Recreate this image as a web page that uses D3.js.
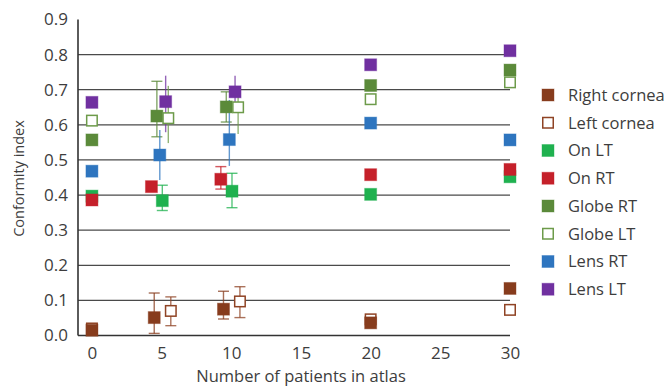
<!DOCTYPE html>
<html>
<head>
<meta charset="utf-8">
<script src="https://cdn.jsdelivr.net/npm/d3@7"></script>
<style>
  body { margin: 0; background: #fff; }
  text { font-family: "Open Sans", sans-serif; fill: #3d3d3d; }
</style>
</head>
<body>
<div id="chart"></div>
<script>
const width = 668;
const height = 387;

// data
const xTicks = [0, 5, 10, 15, 20, 25, 30];
const yTicks = [0, 0.1, 0.2, 0.3, 0.4, 0.5, 0.6, 0.7, 0.8, 0.9];
const names = ["Right cornea", "Left cornea", "On LT", "On RT", "Globe RT", "Globe LT", "Lens RT", "Lens LT"];
const colors = ["#873c1d", "#8f4324", "#1fb14f", "#c5202a", "#5b8a3a", "#6d9b4a", "#2e75bf", "#7030a0"];
const hollow = [false, true, false, false, false, true, false, false];
const capped = [true, true, true, true, true, false, false, false];

// x positions (slightly spread around 5 and 10 in the original)
const xRightCornea = [0, 4.47, 9.44, 20, 30];
const xLeftCornea = [0, 5.66, 10.62, 20, 30];
const xOnLT = [0, 5.05, 10.05, 20, 30];
const xOnRT = [0, 4.27, 9.25, 20, 30];
const xGlobeRT = [0, 4.66, 9.64, 20, 30];
const xGlobeLT = [0, 5.48, 10.49, 20, 30];
const xLensRT = [0, 4.87, 9.86, 20, 30];
const xLensLT = [0, 5.29, 10.27, 20, 30];

const rightCornea = [0.015, 0.051, 0.075, 0.036, 0.134];
const leftCornea = [0.02, 0.070, 0.097, 0.046, 0.073];
const onLT = [0.397, 0.384, 0.411, 0.402, 0.452];
const onRT = [0.386, 0.424, 0.445, 0.458, 0.473];
const globeRT = [0.557, 0.625, 0.651, 0.712, 0.756];
const globeLT = [0.612, 0.619, 0.650, 0.673, 0.721];
const lensRT = [0.468, 0.514, 0.558, 0.605, 0.557];
const lensLT = [0.664, 0.666, 0.694, 0.771, 0.811];

// error bar ends (null = none)
const loRightCornea = [null, 0.006, 0.047, null, null];
const hiRightCornea = [null, 0.121, 0.126, null, null];
const loLeftCornea = [null, 0.028, 0.051, null, 0.072];
const hiLeftCornea = [null, 0.110, 0.139, null, 0.074];
const loOnLT = [null, 0.356, 0.364, null, null];
const hiOnLT = [null, 0.428, 0.462, null, null];
const loOnRT = [null, null, 0.417, null, null];
const hiOnRT = [null, null, 0.481, null, null];
const loGlobeRT = [null, 0.566, 0.608, null, null];
const hiGlobeRT = [null, 0.724, 0.694, null, null];
const loGlobeLT = [null, 0.548, 0.574, null, null];
const hiGlobeLT = [null, 0.711, 0.70, null, null];
const loLensRT = [null, 0.443, 0.483, null, null];
const hiLensRT = [null, 0.585, 0.671, null, null];
const loLensLT = [null, 0.579, 0.652, null, null];
const hiLensLT = [null, 0.740, 0.740, null, null];

const xs = [xRightCornea, xLeftCornea, xOnLT, xOnRT, xGlobeRT, xGlobeLT, xLensRT, xLensLT];
const ys = [rightCornea, leftCornea, onLT, onRT, globeRT, globeLT, lensRT, lensLT];
const los = [loRightCornea, loLeftCornea, loOnLT, loOnRT, loGlobeRT, loGlobeLT, loLensRT, loLensLT];
const his = [hiRightCornea, hiLeftCornea, hiOnLT, hiOnRT, hiGlobeRT, hiGlobeLT, hiLensRT, hiLensLT];

const series = names.map((name, i) => ({
	name: name,
	color: colors[i],
	hollow: hollow[i],
	capped: capped[i],
	points: ys[i].map((v, j) => ({ x: xs[i][j], y: v, lo: los[i][j], hi: his[i][j] }))
}));

// drawing order: left cornea under right cornea, otherwise legend order
const drawOrder = [1, 0, 2, 3, 4, 5, 6, 7];

const svg = d3
	.select("#chart")
	.append("svg")
	.attr("width", width)
	.attr("height", height);

const x = d3.scaleLinear().domain([-1, 30]).range([78, 510]);
const y = d3.scaleLinear().domain([0, 0.9]).range([335.5, 19.5]);

// gridlines
svg.append("g")
	.selectAll("line")
	.data(yTicks.filter((t) => t > 0 && t < 0.9))
	.join("line")
	.attr("x1", 78)
	.attr("x2", 510)
	.attr("y1", (d) => y(d))
	.attr("y2", (d) => y(d))
	.attr("stroke", "#4a4a4a")
	.attr("stroke-width", 1.3);

// y axis
const yAxis = svg.append("g")
	.attr("transform", "translate(78,0)")
	.call(d3.axisLeft(y).tickValues(yTicks).tickFormat(d3.format(".1f")).tickSize(0).tickPadding(10));
yAxis.select(".domain").attr("stroke", "#333").attr("stroke-width", 1.6).attr("d", "M0," + y(0.9) + "V" + y(0));
yAxis.selectAll("text").style("font-size", "17px").attr("fill", "#3d3d3d");

// x axis
const xAxis = svg.append("g")
	.attr("transform", "translate(0," + y(0) + ")")
	.call(d3.axisBottom(x).tickValues(xTicks).tickSize(0).tickPadding(11));
xAxis.select(".domain").attr("stroke", "#333").attr("stroke-width", 1.6).attr("d", "M78,0H510");
xAxis.selectAll("text").style("font-size", "17px").attr("fill", "#3d3d3d");

// axis titles
svg.append("text")
	.attr("x", 301)
	.attr("y", 382)
	.attr("text-anchor", "middle")
	.style("font-size", "16.5px")
	.text("Number of patients in atlas");

svg.append("text")
	.attr("transform", "translate(24,178.5) rotate(-90)")
	.attr("text-anchor", "middle")
	.style("font-size", "14.5px")
	.text("Conformity index");

const size = 12;
const cap = 11;

// error bars
const errG = svg.append("g");
drawOrder.forEach(function (i) {
	const s = series[i];
	const pts = s.points.filter((p) => p.lo != null);
	const g = errG.append("g")
		.attr("stroke", s.color)
		.attr("stroke-opacity", 0.75)
		.attr("stroke-width", 1.4);
	g.selectAll(".stem")
		.data(pts)
		.join("line")
		.attr("x1", (d) => x(d.x))
		.attr("x2", (d) => x(d.x))
		.attr("y1", (d) => y(d.lo))
		.attr("y2", (d) => y(d.hi));
	if (s.capped) {
		g.selectAll(".capLo")
			.data(pts)
			.join("line")
			.attr("x1", (d) => x(d.x) - cap / 2)
			.attr("x2", (d) => x(d.x) + cap / 2)
			.attr("y1", (d) => y(d.lo))
			.attr("y2", (d) => y(d.lo));
		g.selectAll(".capHi")
			.data(pts)
			.join("line")
			.attr("x1", (d) => x(d.x) - cap / 2)
			.attr("x2", (d) => x(d.x) + cap / 2)
			.attr("y1", (d) => y(d.hi))
			.attr("y2", (d) => y(d.hi));
	}
});

// markers
drawOrder.forEach(function (i) {
	const s = series[i];
	svg.append("g")
		.selectAll("rect")
		.data(s.points)
		.join("rect")
		.attr("x", (d) => x(d.x) - size / 2 + (s.hollow ? 0.75 : 0))
		.attr("y", (d) => y(d.y) - size / 2 + (s.hollow ? 0.75 : 0))
		.attr("width", s.hollow ? size - 1.5 : size)
		.attr("height", s.hollow ? size - 1.5 : size)
		.attr("fill", s.hollow ? "#fff" : s.color)
		.attr("stroke", s.color)
		.attr("stroke-opacity", s.hollow ? 1 : 0.4)
		.attr("stroke-width", s.hollow ? 1.5 : 1);
});

// legend
const legend = svg.append("g")
	.selectAll("g")
	.data(series)
	.join("g")
	.attr("transform", (d, i) => "translate(542," + (95 + i * 27.75) + ")");

legend.append("rect")
	.attr("x", (d) => (d.hollow ? 0.75 : 0))
	.attr("y", (d) => -6 + (d.hollow ? 0.75 : 0))
	.attr("width", (d) => (d.hollow ? 10.5 : 12))
	.attr("height", (d) => (d.hollow ? 10.5 : 12))
	.attr("fill", (d) => (d.hollow ? "#fff" : d.color))
	.attr("stroke", (d) => d.color)
	.attr("stroke-opacity", (d) => (d.hollow ? 1 : 0.4))
	.attr("stroke-width", (d) => (d.hollow ? 1.5 : 1));

legend.append("text")
	.attr("x", 26)
	.attr("y", 0)
	.attr("dy", "0.35em")
	.style("font-size", "16.5px")
	.text((d) => d.name);
</script>
</body>
</html>
